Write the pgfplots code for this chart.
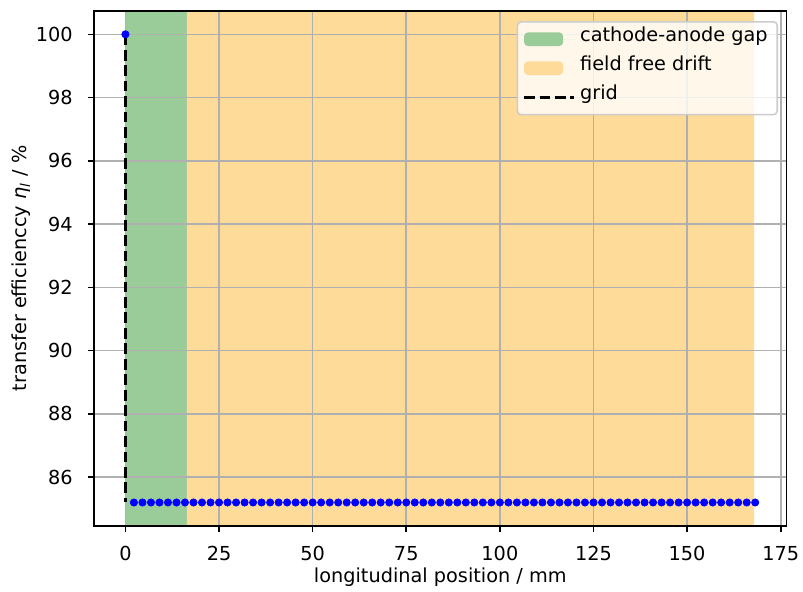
\documentclass[border=0pt]{standalone}
\usepackage{fontspec}
\setmainfont{DejaVu Sans}
\usepackage{pgfplots}
\pgfplotsset{compat=1.18}

\definecolor{gapgreen}{HTML}{99CC99}
\definecolor{driftorange}{HTML}{FFDB99}
\definecolor{gridgray}{HTML}{B0B0B0}

\newcommand{\labelfont}{\fontsize{11.15}{13.4}\selectfont}

\begin{document}
\begin{tikzpicture}
\begin{axis}[
  name=ax,
  set layers,
  scale only axis,
  width=399bp, height=296.6bp,
  xmin=-8.41, xmax=176.59,
  ymin=84.46, ymax=100.74,
  xtick={0,25,...,175},
  ytick={86,88,...,100},
  /pgf/number format/assume math mode=true,
  tick label style={font=\labelfont, inner sep=0pt},
  xticklabel style={yshift=-7.8bp},
  yticklabel style={xshift=-8.5bp},
  tick align=outside,
  major tick length=3.6bp,
  every tick/.style={black, line width=0.9bp},
  axis line style={line width=0.9bp},
  xtick pos=bottom, ytick pos=left,
  grid=major,
  major grid style={gridgray, line width=0.9bp},
  xlabel={longitudinal position / mm},
  ylabel={transfer efficienccy \textit{η}\textsubscript{\textit{l}} / \%},
  every axis x label/.style={at={(axis description cs:0.5,0)}, anchor=center, yshift=-29.6bp, font=\labelfont},
  every axis y label/.style={at={(axis description cs:0,0.5)}, anchor=center, rotate=90, yshift=42bp, font=\labelfont},
  legend cell align=left,
  legend style={at={(1,1)}, anchor=north east, xshift=-5bp, yshift=-5.8bp,
    draw=black!20, line width=0.9bp, fill=white, fill opacity=0.8, text opacity=1,
    rounded corners=2.2bp, inner xsep=3bp, inner ysep=3.2bp, row sep=3bp,
    font=\labelfont,
    nodes={inner ysep=0pt, inner xsep=2.5bp, text height=8.2bp, text depth=5.5bp}},
]
% cathode-anode gap and field free drift regions
\addplot[fill=gapgreen, draw=none, on layer=axis background,
  legend image code/.code={\fill[gapgreen, fill opacity=1] (0bp,-3.9bp) rectangle (22.5bp,3.9bp); \path (0bp,0bp) -- (29bp,0bp);}]
  coordinates {(0,84.46) (16.4,84.46) (16.4,100.74) (0,100.74)} \closedcycle;
\addlegendentry{cathode-anode gap}
\addplot[fill=driftorange, draw=none, on layer=axis background,
  legend image code/.code={\fill[driftorange, fill opacity=1] (0bp,-3.9bp) rectangle (22.5bp,3.9bp); \path (0bp,0bp) -- (29bp,0bp);}]
  coordinates {(16.4,84.46) (167.9,84.46) (167.9,100.74) (16.4,100.74)} \closedcycle;
\addlegendentry{field free drift}
% grid position
\addplot[black, line width=1.67bp, dash pattern=on 6.2bp off 2.7bp,
  legend image code/.code={\draw[black, line width=1.67bp, dash pattern=on 6.2bp off 2.7bp] (0bp,0bp) -- (22.5bp,0bp); \path (0bp,0bp) -- (29bp,0bp);}]
  coordinates {(0,100) (0,85.2)};
\addlegendentry{grid}
% transfer efficiency along the drift
\addplot[only marks, mark=*, mark size=2.1bp, blue, mark options={draw=blue, fill=blue}, forget plot]
  table {
x y
0 100
2.27 85.2
4.55 85.2
6.82 85.2
9.09 85.2
11.36 85.2
13.64 85.2
15.91 85.2
18.18 85.2
20.45 85.2
22.73 85.2
25.00 85.2
27.27 85.2
29.55 85.2
31.82 85.2
34.09 85.2
36.36 85.2
38.64 85.2
40.91 85.2
43.18 85.2
45.45 85.2
47.73 85.2
50.00 85.2
52.27 85.2
54.55 85.2
56.82 85.2
59.09 85.2
61.36 85.2
63.64 85.2
65.91 85.2
68.18 85.2
70.45 85.2
72.73 85.2
75.00 85.2
77.27 85.2
79.55 85.2
81.82 85.2
84.09 85.2
86.36 85.2
88.64 85.2
90.91 85.2
93.18 85.2
95.45 85.2
97.73 85.2
100.00 85.2
102.27 85.2
104.55 85.2
106.82 85.2
109.09 85.2
111.36 85.2
113.64 85.2
115.91 85.2
118.18 85.2
120.45 85.2
122.73 85.2
125.00 85.2
127.27 85.2
129.55 85.2
131.82 85.2
134.09 85.2
136.36 85.2
138.64 85.2
140.91 85.2
143.18 85.2
145.45 85.2
147.73 85.2
150.00 85.2
152.27 85.2
154.55 85.2
156.82 85.2
159.09 85.2
161.36 85.2
163.64 85.2
165.91 85.2
168.18 85.2
  };
\end{axis}
\pgfresetboundingbox
\path[use as bounding box] ([shift={(-54.1bp,-38bp)}]ax.south west) rectangle ([shift={(9.4bp,6.3bp)}]ax.north east);
\end{tikzpicture}
\end{document}
